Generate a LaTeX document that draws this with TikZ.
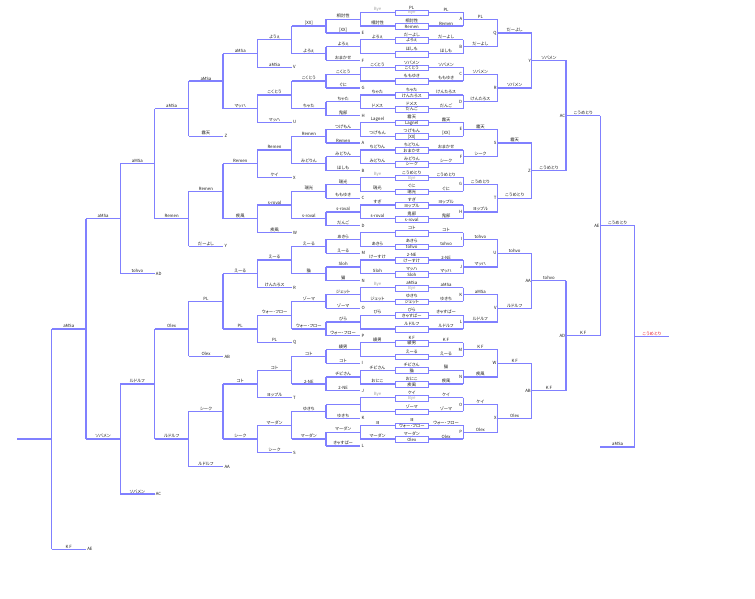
\documentclass[tikz,border=0pt]{standalone}
\usepackage{fontspec}
\setmainfont{Noto Sans CJK JP}[RawFeature=+palt]
\usetikzlibrary{calc}

\definecolor{wireblue}{RGB}{128,128,255}
\definecolor{labelgray}{RGB}{30,30,30}
\definecolor{byegray}{RGB}{165,165,165}
\definecolor{champred}{RGB}{235,20,40}
\newcommand\byename{\textcolor{byegray}{Bye}}

\tikzset{
  wire/.style={draw=wireblue, line width=1.25pt},
  lbl/.style={above, inner sep=0.3pt},
  mtag/.style={inner sep=0.8pt},
  slotbox/.style={draw=wireblue, fill=white, line width=0.9pt, minimum width=33.6pt, minimum height=5.7pt, inner sep=0pt}
}

\begin{document}
\begin{tikzpicture}[x=1pt, y=-1pt, every node/.style={font=\fontsize{4.3}{4.7}\selectfont, text=labelgray}]
\path[fill=white] (0,0) rectangle (755,599);
\useasboundingbox (0,0) rectangle (755,599);
\foreach \i in {0,...,19}
  \coordinate (x\i) at (17.3+34.3*\i,0);
%
\foreach \lf/\tp/\inn/\rt [count=\k from 0] in {
  \byename/PL/\byename/PL, 相討性/相討性/Remen/Remen,
  よろぇ/だーよし/よろぇ/だーよし, {}/ほしも/{}/ほしも,
  こくとう/ソバメン/こくとう/ソバメン, {}/ももゆき/{}/ももゆき,
  ちゃた/ちゃた/けんたろス/けんたろス, ドメス/ドメス/だんご/だんご,
  Lagnel/霧天/Lagnel/霧天, つげもん/つげもん/[XX]/[XX],
  ちどりん/ちどりん/おまかせ/おまかせ, みどりん/みどりん/シーク/シーク,
  \byename/こうめとり/\byename/こうめとり, 瑞光/ぐに/瑞光/ぐに,
  すぎ/すぎ/ヨップル/ヨップル, s-roval/鬼部/s-roval/鬼部,
  {}/コト/{}/コト, あきら/あきら/tohvo/tohvo,
  けーすけ/2-NE/けーすけ/2-NE, Sloh/マッハ/Sloh/マッハ,
  \byename/aMSa/\byename/aMSa, ジェット/ゆきち/ジェット/ゆきち,
  ぴら/ぴら/きゃすぱー/きゃすぱー, {}/ルドルフ/{}/ルドルフ,
  綾男/K F/綾男/K F, {}/えーる/{}/えーる,
  チビさん/チビさん/猫/猫, おにこ/おにこ/疾風/疾風,
  \byename/ケイ/\byename/ケイ, {}/ゾーマ/{}/ゾーマ,
  ヨ/ヨ/ウォー・フロー/ウォー・フロー, マーダン/マーダン/Olex/Olex}
{
  \coordinate (sL\k) at ($(x10)+(0,12.3+13.765*\k)$);
  \coordinate (sR\k) at ($(x13)+(0,12.3+13.765*\k)$);
  \draw[wire] (sL\k) -- (sR\k) node[pos=0.1667,lbl]{\lf} node[pos=0.8333,lbl]{\rt};
  \node[slotbox] (box\k) at ($(sL\k)!0.5!(sR\k)+(0,0.6)$) {\inn};
  \node[lbl] at (box\k.north) {\tp};
}
%
\foreach \mt/\w [count=\m from 0] in {A/PL,B/だーよし,C/ソバメン,D/けんたろス,E/霧天,F/シーク,G/こうめとり,H/ヨップル,
  I/tohvo,J/マッハ,K/aMSa,L/ルドルフ,M/K F,N/疾風,O/ケイ,P/Olex}
{
  \pgfmathtruncatemacro\ta{2*\m}
  \pgfmathtruncatemacro\tb{2*\m+1}
  \draw[wire] (sR\ta) -- (sR\tb);
  \coordinate (\mt) at ($(sR\ta)!0.5!(sR\tb)$);
  \node[left,mtag] at (\mt) {\mt};
  \draw[wire] (\mt) -- (\mt -| x14) node[midway,lbl]{\w};
}
\foreach \mt/\p/\q/\cl/\w in {Q/A/B/14/だーよし, R/C/D/14/ソバメン, S/E/F/14/霧天, T/G/H/14/こうめとり,
  U/I/J/14/tohvo, V/K/L/14/ルドルフ, W/M/N/14/K F, X/O/P/14/Olex,
  Y/Q/R/15/ソバメン, Z/S/T/15/こうめとり, AA/U/V/15/tohvo, AB/W/X/15/K F,
  AC/Y/Z/16/こうめとり, AD/AA/AB/16/K F, AE/AC/AD/17/こうめとり}
{
  \pgfmathtruncatemacro\nx{\cl+1}
  \draw[wire] (\p -| x\cl) -- (\q -| x\cl);
  \coordinate (\mt) at ($(\p -| x\cl)!0.5!(\q -| x\cl)$);
  \node[left,mtag] at (\mt) {\mt};
  \draw[wire] (\mt) -- (\mt -| x\nx) node[midway,lbl]{\w};
}
\coordinate (lbchamp) at ($(x17)+(0,446.9)$);
\draw[wire] (lbchamp) -- (lbchamp -| x18) node[midway,lbl]{aMSa};
\draw[wire] (AE -| x18) -- (lbchamp -| x18);
\coordinate (final) at ($(AE -| x18)!0.5!(lbchamp -| x18)$);
\draw[wire] (final) -- (final -| x19) node[midway,lbl,text=champred]{こうめとり};
%
\foreach \w [count=\m from 0] in {相討性,よろぇ,こくとう,ちゃた,つげもん,みどりん,瑞光,s-roval,
  あきら,Sloh,ジェット,ぴら,綾男,チビさん,{},マーダン}
{
  \pgfmathtruncatemacro\ta{2*\m}
  \pgfmathtruncatemacro\tb{2*\m+1}
  \draw[wire] (sL\ta) -- (sL\tb);
  \coordinate (la\m) at ($(sL\ta)!0.5!(sL\tb)$);
  \draw[wire] (la\m) -- (la\m -| x9) node[midway,lbl]{\w};
}
\foreach \dn/\dl/\w [count=\m from 0] in {[XX]/E/[XX], おまかせ/F/よろぇ, ぐに/G/こくとう, 鬼部/H/ちゃた,
  Remen/A/Remen, ほしも/B/みどりん, ももゆき/C/瑞光, だんご/D/s-roval,
  えーる/M/えーる, 猫/N/猫, ゾーマ/O/ゾーマ, ウォー・フロー/P/ウォー・フロー,
  コト/I/コト, 2-NE/J/2-NE, ゆきち/K/ゆきち, きゃすぱー/L/マーダン}
{
  \coordinate (db\m) at ($(la\m -| x9)+(0,13.765)$);
  \draw[wire] (db\m) -- (db\m -| x10) node[midway,lbl]{\dn} node[right,mtag]{\dl};
  \draw[wire] (la\m -| x9) -- (db\m);
  \coordinate (lb\m) at ($(la\m -| x9)!0.5!(db\m)$);
  \draw[wire] (lb\m) -- (lb\m -| x8) node[midway,lbl]{\w};
}
\foreach \w [count=\m from 0] in {ようぇ,こくとう,Remen,s-roval,えーる,ウォー・フロー,コト,マーダン}
{
  \pgfmathtruncatemacro\ta{2*\m}
  \pgfmathtruncatemacro\tb{2*\m+1}
  \draw[wire] (lb\ta -| x8) -- (lb\tb -| x8);
  \coordinate (lc\m) at ($(lb\ta -| x8)!0.5!(lb\tb -| x8)$);
  \draw[wire] (lc\m) -- (lc\m -| x7) node[midway,lbl]{\w};
}
\foreach \dn/\dl/\w [count=\m from 0] in {aMSa/V/aMSa, マッハ/U/マッハ, ケイ/X/Remen, 疾風/W/疾風,
  けんたろス/R/えーる, PL/Q/PL, ヨップル/T/コト, シーク/S/シーク}
{
  \coordinate (dd\m) at ($(lc\m -| x7)+(0,27.53)$);
  \draw[wire] (dd\m) -- (dd\m -| x8) node[midway,lbl]{\dn} node[right,mtag]{\dl};
  \draw[wire] (lc\m -| x7) -- (dd\m);
  \coordinate (ld\m) at ($(lc\m -| x7)!0.5!(dd\m)$);
  \draw[wire] (ld\m) -- (ld\m -| x6) node[midway,lbl]{\w};
}
\foreach \w [count=\m from 0] in {aMSa,Remen,PL,シーク}
{
  \pgfmathtruncatemacro\ta{2*\m}
  \pgfmathtruncatemacro\tb{2*\m+1}
  \draw[wire] (ld\ta -| x6) -- (ld\tb -| x6);
  \coordinate (le\m) at ($(ld\ta -| x6)!0.5!(ld\tb -| x6)$);
  \draw[wire] (le\m) -- (le\m -| x5) node[midway,lbl]{\w};
}
\foreach \dn/\dl/\w [count=\m from 0] in {霧天/Z/aMSa, だーよし/Y/Remen, Olex/AB/Olex, ルドルフ/AA/ルドルフ}
{
  \coordinate (df\m) at ($(le\m -| x5)+(0,55.06)$);
  \draw[wire] (df\m) -- (df\m -| x6) node[midway,lbl]{\dn} node[right,mtag]{\dl};
  \draw[wire] (le\m -| x5) -- (df\m);
  \coordinate (lf\m) at ($(le\m -| x5)!0.5!(df\m)$);
  \draw[wire] (lf\m) -- (lf\m -| x4) node[midway,lbl]{\w};
}
\foreach \w [count=\m from 0] in {aMSa,ルドルフ}
{
  \pgfmathtruncatemacro\ta{2*\m}
  \pgfmathtruncatemacro\tb{2*\m+1}
  \draw[wire] (lf\ta -| x4) -- (lf\tb -| x4);
  \coordinate (lg\m) at ($(lf\ta -| x4)!0.5!(lf\tb -| x4)$);
  \draw[wire] (lg\m) -- (lg\m -| x3) node[midway,lbl]{\w};
}
\foreach \dn/\dl/\w [count=\m from 0] in {tohvo/AD/aMSa, ソバメン/AC/ソバメン}
{
  \coordinate (dh\m) at ($(lg\m -| x3)+(0,110.12)$);
  \draw[wire] (dh\m) -- (dh\m -| x4) node[midway,lbl]{\dn} node[right,mtag]{\dl};
  \draw[wire] (lg\m -| x3) -- (dh\m);
  \coordinate (lh\m) at ($(lg\m -| x3)!0.5!(dh\m)$);
  \draw[wire] (lh\m) -- (lh\m -| x2) node[midway,lbl]{\w};
}
\draw[wire] (lh0 -| x2) -- (lh1 -| x2);
\coordinate (li) at ($(lh0 -| x2)!0.5!(lh1 -| x2)$);
\draw[wire] (li) -- (li -| x1) node[midway,lbl]{aMSa};
\coordinate (dj) at ($(li -| x1)+(0,220.24)$);
\draw[wire] (dj) -- (dj -| x2) node[midway,lbl]{K F} node[right,mtag]{AE};
\draw[wire] (li -| x1) -- (dj);
\coordinate (lj) at ($(li -| x1)!0.5!(dj)$);
\draw[wire] (lj) -- (lj -| x0);
\end{tikzpicture}
\end{document}
